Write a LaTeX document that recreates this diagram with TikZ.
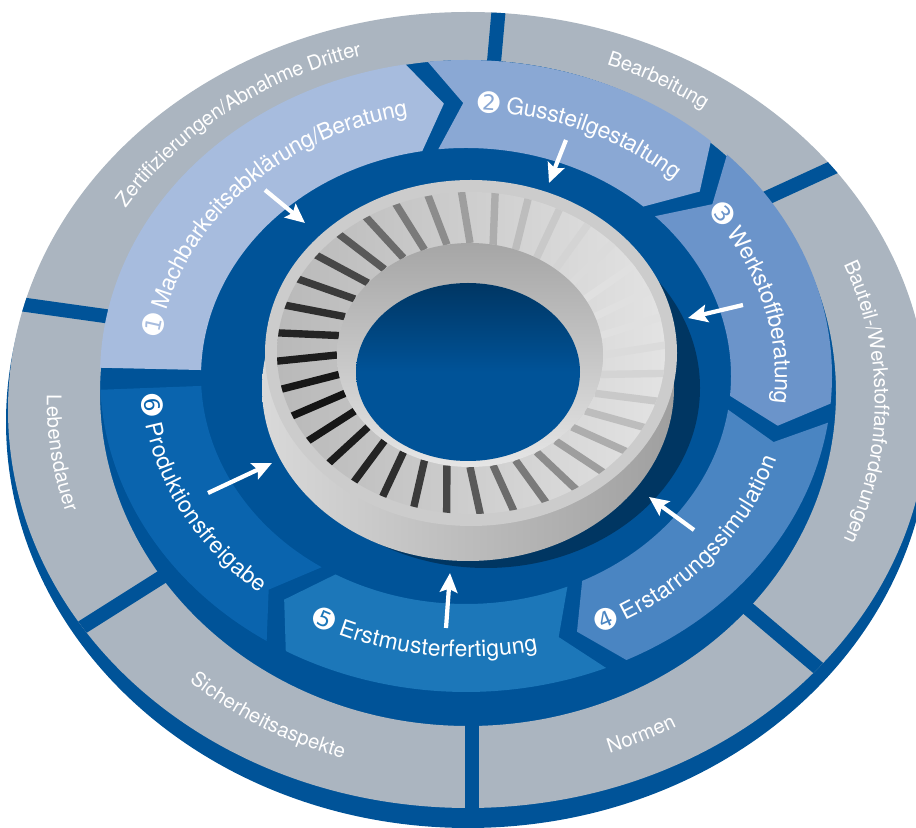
\documentclass[tikz,border=0pt]{standalone}
\usepackage{fontspec}
\setmainfont{TeX Gyre Heros}
\newfontfamily\dejavunum{DejaVu Sans}
\usetikzlibrary{arrows.meta,decorations.text}

\definecolor{diskblue}{HTML}{005398}
\definecolor{ringgray}{HTML}{ABB5C0}
\definecolor{step1}{HTML}{A7BCDE}
\definecolor{step2}{HTML}{8AA8D4}
\definecolor{step3}{HTML}{6B94CA}
\definecolor{step4}{HTML}{4A85C2}
\definecolor{step5}{HTML}{1C77B9}
\definecolor{step6}{HTML}{0A64AE}

\newcommand\steplabelfont{\fontsize{13}{15}\selectfont}
\newcommand\ringlabelfont{\fontsize{11.5}{13}\selectfont}
\newcommand\numlabelfont{\dejavunum\fontsize{15}{17}\selectfont}

% one chevron of the process ring: start, end, notch, tip, colour
\newcommand\stepseg[5]{%
  \fill[#5] ({466+366*cos(#1)},{452+316*sin(#1)})
    arc[start angle=#1, end angle=#2, x radius=366, y radius=316]
    -- ({466+317*cos(#2-#4)},{452+273*sin(#2-#4)})
    -- ({466+265*cos(#2)},{452+228*sin(#2)})
    arc[start angle=#2, end angle=#1, x radius=265, y radius=228]
    -- ({466+317*cos(#1-#3)},{452+273*sin(#1-#3)}) -- cycle;}

\begin{document}
\begin{tikzpicture}[x=0.02cm, y=0.02cm,
    divider/.style={diskblue, line width=8pt},
    flow/.style={white, line width=2.4pt, -{Stealth[length=11pt, width=10pt, inset=2pt]}},
    steplabel/.style={decorate, decoration={text along path, text align=center,
        raise=-4.6pt, text color=white, text={#1}}},
    ringlabel/.style={decorate, decoration={text along path, text align=center,
        raise=-4.1pt, text color=white, text={#1}}}]
  \useasboundingbox (0,0) rectangle (916,828);
  \clip (0,0) rectangle (916,828);

  % disc and outer ring
  \fill[diskblue] (468,406) ellipse[x radius=462, y radius=406];
  \fill[ringgray, even odd rule] (468,418) ellipse[x radius=460, y radius=398]
    (468,435) ellipse[x radius=368, y radius=333];
  \begin{scope}
    \clip (468,418) ellipse[x radius=460, y radius=398];
    \draw[divider] (494,766) -- (499,822);
    \draw[divider] (760,627) -- (845,666);
    \draw[divider] (745,222) -- (830,150);
    \draw[divider] (472,113) -- (472,10);
    \draw[divider] (165,253) -- (70,193);
    \draw[divider] (5,526) -- (112,511);
  \end{scope}

  % process ring
  \stepseg{178.5}{99.5}{0}{5.5}{step1}
  \stepseg{96}{48}{5.5}{5.5}{step2}
  \stepseg{44.5}{-5}{5.5}{5.5}{step3}
  \stepseg{-8.5}{-64}{5.5}{5.5}{step4}
  \stepseg{-67.5}{-119.5}{5.5}{5.5}{step5}
  \stepseg{-123}{-177.5}{5.5}{0}{step6}

  % turbine
  \fill[black, opacity=.35] (486,440) ellipse[x radius=214, y radius=180];
  \shade[left color=gray!30, right color=gray!75] (468,440) ellipse[x radius=206, y radius=173];
  \fill[gray!40] (471,475) ellipse[x radius=206, y radius=173];
  \shade[even odd rule, left color=gray!55, right color=gray!22]
    (471,475) ellipse[x radius=194, y radius=161] (470,473) ellipse[x radius=133, y radius=112];
  \begin{scope}
    \clip (471,475) ellipse[x radius=194, y radius=161];
    \foreach \a in {0,10,...,350}{
      \pgfmathsetmacro\k{int(52+40*cos(\a-200))}
      \draw[black!\k, line width=4.2pt] ({470+133*cos(\a)},{473+112*sin(\a)})
        -- ({471+200*cos(\a+3)},{475+167*sin(\a+3)});
    }
  \end{scope}
  \shade[even odd rule, top color=gray!70, bottom color=gray!20]
    (470,473) ellipse[x radius=133, y radius=112] (468,456) ellipse[x radius=112, y radius=89];
  \shade[top color=diskblue!65!black, bottom color=diskblue, middle color=diskblue]
    (468,456) ellipse[x radius=112, y radius=89];

  % arrows to the part
  \coordinate (t1) at (265,638); \coordinate (h1) at (305,605);
  \coordinate (t2) at (566,688); \coordinate (h2) at (549,645);
  \coordinate (t3) at (743,523); \coordinate (h3) at (688,510);
  \coordinate (t4) at (694,298); \coordinate (h4) at (649,331);
  \coordinate (t5) at (446,200); \coordinate (h5) at (450,255);
  \coordinate (t6) at (208,335); \coordinate (h6) at (272,365);
  \foreach \i in {1,...,6}
    \draw[flow] (t\i) -- (h\i);

  % step labels
  \path[steplabel={|\numlabelfont|➊|\steplabelfont| Machbarkeitsabklärung/Beratung}]
    ({466+317*cos(177)},{452+273*sin(177)}) arc[start angle=177, end angle=96, x radius=317, y radius=273];
  \path[steplabel={|\numlabelfont|➋|\steplabelfont| Gussteilgestaltung}]
    ({466+317*cos(95)},{452+273*sin(95)}) arc[start angle=95, end angle=40, x radius=317, y radius=273];
  \path[steplabel={|\numlabelfont|➌|\steplabelfont| Werkstoffberatung}]
    ({466+317*cos(44)},{452+273*sin(44)}) arc[start angle=44, end angle=-12, x radius=317, y radius=273];
  \path[steplabel={|\numlabelfont|➍|\steplabelfont| Erstarrungssimulation}]
    ({466+317*cos(-72)},{452+273*sin(-72)}) arc[start angle=-72, end angle=-10, x radius=317, y radius=273];
  \path[steplabel={|\numlabelfont|➎|\steplabelfont| Erstmusterfertigung}]
    ({466+317*cos(-128)},{452+273*sin(-128)}) arc[start angle=-128, end angle=-68, x radius=317, y radius=273];
  \path[steplabel={|\numlabelfont|➏|\steplabelfont| Produktionsfreigabe}]
    ({466+317*cos(180)},{452+273*sin(180)}) arc[start angle=180, end angle=234, x radius=317, y radius=273];

  % ring labels
  \path[ringlabel={|\ringlabelfont|Zertifizierungen/Abnahme Dritter}]
    ({468+414*cos(165)},{426+366*sin(165)}) arc[start angle=165, end angle=89, x radius=414, y radius=366];
  \path[ringlabel={|\ringlabelfont|Bearbeitung}]
    ({468+414*cos(85)},{426+366*sin(85)}) arc[start angle=85, end angle=39, x radius=414, y radius=366];
  \path[ringlabel={|\ringlabelfont|Bauteil-/Werkstoffanforderungen}]
    ({468+414*cos(30)},{426+366*sin(30)}) arc[start angle=30, end angle=-30, x radius=414, y radius=366];
  \path[ringlabel={|\ringlabelfont|Normen}]
    ({468+414*cos(-85)},{426+366*sin(-85)}) arc[start angle=-85, end angle=-45, x radius=414, y radius=366];
  \path[ringlabel={|\ringlabelfont|Sicherheitsaspekte}]
    ({468+414*cos(-150)},{426+366*sin(-150)}) arc[start angle=-150, end angle=-90, x radius=414, y radius=366];
  \path[ringlabel={|\ringlabelfont|Lebensdauer}]
    ({468+414*cos(168)},{426+366*sin(168)}) arc[start angle=168, end angle=208, x radius=414, y radius=366];
\end{tikzpicture}
\end{document}
